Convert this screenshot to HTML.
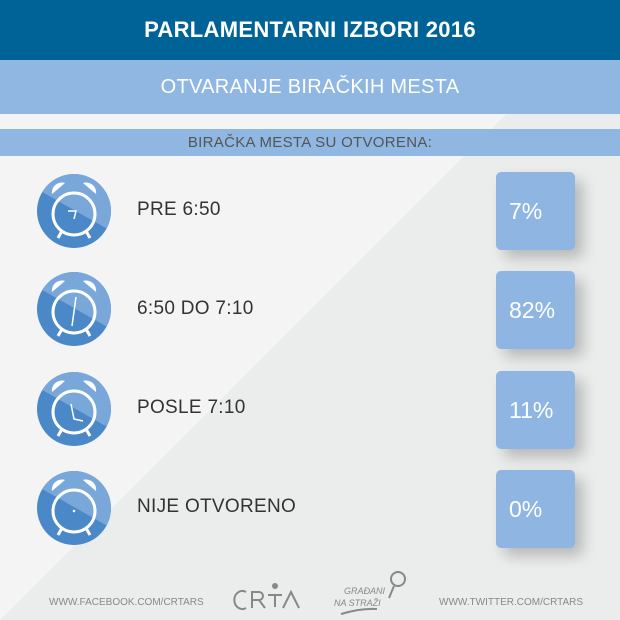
<!DOCTYPE html>
<html><head><meta charset="utf-8"><style>
body{margin:0;width:620px;height:620px;overflow:hidden;font-family:"Liberation Sans",sans-serif}
.bg{position:absolute;left:0;top:0;width:620px;height:620px;background:linear-gradient(135deg,#f4f4f4 0,#f4f4f4 50%,#ebecec 50%,#ebecec 100%)}
.t{position:absolute;left:0;width:620px;text-align:center;color:#fff}
.lab{position:absolute;left:137px;font-size:19px;color:#333;letter-spacing:0.3px}
.box{position:absolute;left:496px;width:79px;height:78px;background:#8fb6e3;border-radius:5px;box-shadow:8px 8px 14px rgba(0,0,0,0.22);color:#fff;font-size:23px;line-height:78px;box-sizing:border-box;padding-left:13px}
.ft{position:absolute;top:597px;font-size:10px;color:#888}
</style></head><body>
<div class="bg"></div>
<div class="t" style="top:0;height:60px;background:#006398;font-size:22px;line-height:60px;font-weight:bold;letter-spacing:0.3px">PARLAMENTARNI IZBORI 2016</div>
<div class="t" style="top:60px;height:54px;background:#8fb7e2;font-size:20px;line-height:54px;letter-spacing:0.3px">OTVARANJE BIRAČKIH MESTA</div>
<div class="t" style="top:129px;height:27px;background:#8fb7e2;font-size:15px;line-height:28px;color:#555;letter-spacing:0.3px">BIRAČKA MESTA SU OTVORENA:</div>

<svg style="position:absolute;left:0;top:0" width="620" height="620">
<defs>
<clipPath id="c"><circle cx="0" cy="0" r="37"/></clipPath>
<g id="clk">
<circle r="37" fill="#4a88c8"/>
<polygon points="-37,-37 37,-37 37,20 -37,-22" fill="#7aa7da" clip-path="url(#c)"/>
<path d="M-22,-17 A10,10 0 0 1 -9,-28 Z" fill="#fff"/>
<path d="M22,-17 A10,10 0 0 0 9,-28 Z" fill="#fff"/>
<circle r="21" cx="0" cy="3" fill="none" stroke="#fff" stroke-width="3"/>
<line x1="-12" y1="20" x2="-16" y2="27" stroke="#fff" stroke-width="3"/>
<line x1="12" y1="20" x2="16" y2="27" stroke="#fff" stroke-width="3"/>
</g>
</defs>
<g transform="translate(74,211)"><use href="#clk"/><path d="M-6,0 H2 L0,8" stroke="#fff" stroke-width="1.5" fill="none"/></g>
<g transform="translate(74,309)"><use href="#clk"/><path d="M2,-12 L-2,17" stroke="#fff" stroke-width="1.5" fill="none"/></g>
<g transform="translate(74,409)"><use href="#clk"/><path d="M-3,-5 L0,10 L9,12" stroke="#fff" stroke-width="1.5" fill="none"/></g>
<g transform="translate(74,508)"><use href="#clk"/><circle cx="0" cy="3" r="1.3" fill="#fff"/></g>
<g fill="none" stroke="#888" stroke-width="2">
<path d="M246,592 a8,9 0 1 0 0,16"/>
<path d="M252,608 V592 h7 a4,4 0 0 1 0,8 h-7 M259,600 l6,8"/>
<circle cx="275" cy="586" r="2" fill="#888"/>
<path d="M268,595 h14 M275,595 v12 M283,608 L291,592 L299,608"/>
<path d="M341,614 q20,-6 36,-5"/>
<circle cx="398" cy="579" r="7"/>
<path d="M394,586 l-5,12"/>
</g>
<text x="344" y="594" font-size="9" fill="#888" font-style="italic" font-family="Liberation Sans">GRAĐANI</text>
<text x="334" y="606" font-size="9" fill="#888" font-style="italic" font-family="Liberation Sans">NA STRAŽI</text>
</svg>

<div class="lab" style="top:199px">PRE 6:50</div>
<div class="lab" style="top:298px">6:50 DO 7:10</div>
<div class="lab" style="top:397px">POSLE 7:10</div>
<div class="lab" style="top:496px">NIJE OTVORENO</div>

<div class="box" style="top:172px">7%</div>
<div class="box" style="top:271px">82%</div>
<div class="box" style="top:371px">11%</div>
<div class="box" style="top:470px">0%</div>

<div class="ft" style="left:49px">WWW.FACEBOOK.COM/CRTARS</div>
<div class="ft" style="left:439px">WWW.TWITTER.COM/CRTARS</div>
</body></html>
